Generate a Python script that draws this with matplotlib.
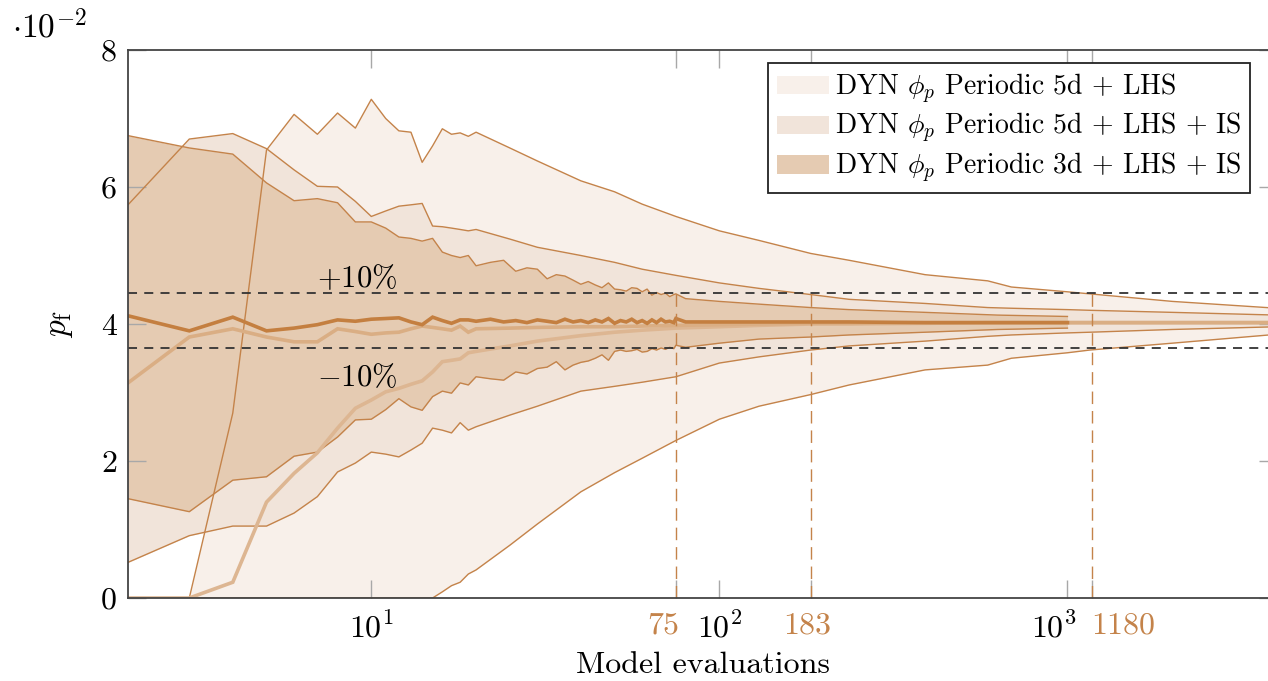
import matplotlib
matplotlib.use("Agg")
import matplotlib.pyplot as plt
import matplotlib.transforms as mtransforms
from matplotlib.ticker import NullLocator
from matplotlib.patches import Patch

plt.rcParams['font.family'] = 'serif'
plt.rcParams['font.serif'] = ['cmr10']
plt.rcParams['mathtext.fontset'] = 'cm'
plt.rcParams['axes.formatter.use_mathtext'] = True

# all p_f values below are in units of 1e-2

# DYN phi_p Periodic 5d + LHS
x_a = [2, 3, 4, 5, 6, 7, 8, 9, 10, 11, 12, 13, 14, 15, 16, 17, 18, 19, 20,
       25, 30, 40, 50, 60, 75, 100, 130, 183, 236, 390, 590, 690, 1000, 1160, 2000, 4000]
a_upper = [0, 0, 2.70, 6.54, 7.06, 6.77, 7.08, 6.86, 7.28, 7.00, 6.82, 6.80, 6.36, 6.60, 6.85, 6.77, 6.79, 6.74, 6.80,
           6.57, 6.38, 6.09, 5.93, 5.75, 5.57, 5.36, 5.22, 5.03, 4.93, 4.72, 4.63, 4.54, 4.47, 4.44, 4.33, 4.23]
a_mean = [0, 0, 0.23, 1.40, 1.82, 2.12, 2.48, 2.77, 2.89, 3.01, 3.06, 3.12, 3.17, 3.30, 3.45, 3.47, 3.49, 3.58, 3.60,
          3.68, 3.75, 3.83, 3.88, 3.91, 3.94, 3.96, 3.98, 4.00, 4.00, 4.01, 4.02, 4.02, 4.02, 4.02, 4.02, 4.02]
a_lower = [0, 0, 0, 0, 0, 0, 0, 0, 0, 0, 0, 0, 0, 0, 0.09, 0.18, 0.23, 0.35, 0.41,
           0.77, 1.08, 1.55, 1.83, 2.04, 2.30, 2.61, 2.80, 2.97, 3.11, 3.33, 3.40, 3.50, 3.58, 3.62, 3.72, 3.85]

# DYN phi_p Periodic 5d + LHS + IS
x_b = x_a
b_upper = [5.74, 6.70, 6.78, 6.56, 6.25, 6.01, 6.00, 5.79, 5.57, 5.65, 5.72, 5.74, 5.76, 5.43, 5.42, 5.40, 5.38, 5.36, 5.38,
           5.24, 5.12, 5.00, 4.90, 4.80, 4.71, 4.60, 4.52, 4.43, 4.36, 4.30, 4.24, 4.23, 4.21, 4.20, 4.17, 4.13]
b_mean = [3.14, 3.81, 3.93, 3.81, 3.74, 3.74, 3.93, 3.89, 3.85, 3.87, 3.88, 3.93, 3.97, 3.95, 3.93, 3.91, 3.97, 3.88, 3.93,
          3.94, 3.95, 3.96, 3.96, 3.97, 3.98, 3.99, 4.00, 4.01, 4.01, 4.02, 4.02, 4.02, 4.02, 4.02, 4.02, 4.02]
b_lower = [0.52, 0.91, 1.05, 1.05, 1.24, 1.48, 1.84, 1.97, 2.13, 2.10, 2.06, 2.16, 2.26, 2.48, 2.45, 2.41, 2.56, 2.45, 2.50,
           2.67, 2.80, 3.02, 3.09, 3.15, 3.23, 3.43, 3.52, 3.62, 3.68, 3.75, 3.82, 3.84, 3.87, 3.88, 3.92, 3.96]

# DYN phi_p Periodic 3d + LHS + IS
x_c = [2, 3, 4, 5, 6, 7, 8, 9, 10, 11, 12, 13, 14, 15, 16, 17, 18, 19, 20,
       22, 24, 26, 28, 30, 32, 34, 36, 38, 40, 42, 44, 46, 48, 50, 52, 54, 56, 58, 60,
       62, 64, 66, 68, 70, 72, 74, 75, 80, 100, 130, 183, 236, 390, 630, 1000]
c_upper = [6.75, 6.57, 6.48, 6.06, 5.80, 5.83, 5.77, 5.49, 5.49, 5.40, 5.27, 5.25, 5.21, 5.25, 5.05, 5.00, 4.97, 5.00, 4.85,
           4.90, 4.93, 4.77, 4.82, 4.80, 4.66, 4.72, 4.70, 4.64, 4.58, 4.62, 4.57, 4.53, 4.60, 4.51, 4.50, 4.48, 4.53, 4.52, 4.47,
           4.51, 4.42, 4.46, 4.43, 4.45, 4.40, 4.43, 4.44, 4.37, 4.33, 4.29, 4.24, 4.21, 4.17, 4.13, 4.11]
c_mean = [4.12, 3.90, 4.10, 3.90, 3.94, 3.99, 4.06, 4.04, 4.07, 4.08, 4.09, 4.03, 3.99, 4.10, 4.05, 4.01, 4.06, 4.06, 4.04,
          4.07, 4.03, 4.05, 4.02, 4.06, 4.04, 4.02, 4.07, 4.03, 4.05, 4.02, 4.06, 4.03, 4.08, 4.01, 4.05, 4.03, 4.07, 4.02, 4.05,
          4.01, 4.06, 4.02, 4.07, 4.03, 4.04, 4.02, 4.08, 4.03, 4.03, 4.03, 4.03, 4.03, 4.02, 4.02, 4.02]
c_lower = [1.45, 1.26, 1.72, 1.77, 2.07, 2.13, 2.35, 2.60, 2.61, 2.75, 2.91, 2.79, 2.74, 2.94, 3.02, 2.99, 3.14, 3.11, 3.23,
           3.20, 3.18, 3.30, 3.27, 3.35, 3.37, 3.45, 3.33, 3.40, 3.44, 3.46, 3.50, 3.55, 3.47, 3.60, 3.62, 3.60, 3.61, 3.63, 3.59,
           3.60, 3.64, 3.62, 3.65, 3.63, 3.66, 3.64, 3.69, 3.66, 3.72, 3.78, 3.81, 3.84, 3.88, 3.92, 3.94]

legend_labels = [r'DYN $\phi_p$ Periodic 5d + LHS',
                 r'DYN $\phi_p$ Periodic 5d + LHS + IS',
                 r'DYN $\phi_p$ Periodic 3d + LHS + IS']

pf_ref = 4.05
marks = [75, 183, 1180]

orange = '#C4834A'
fills = ['#F8F0EA', '#F1E4DA', '#E5CBB2']
mean_cols = ['#DDB692', '#DAAE84', '#C47F40']

fig = plt.figure(figsize=(12.68, 6.81), dpi=100)
ax = fig.add_axes([128 / 1268, 1 - 598 / 681, 1149 / 1268, 548 / 681])

series = [(x_a, a_lower, a_upper, a_mean),
          (x_b, b_lower, b_upper, b_mean),
          (x_c, c_lower, c_upper, c_mean)]

for i, (x, lo, up, mu) in enumerate(series):
    ax.fill_between(x, lo, up, color=fills[i], lw=0, zorder=1 + i * 0.1)
for i, (x, lo, up, mu) in enumerate(series):
    ax.plot(x, lo, color=orange, lw=1.0, zorder=3)
    ax.plot(x, up, color=orange, lw=1.0, zorder=3)
for i, (x, lo, up, mu) in enumerate(series):
    ax.plot(x, mu, color=mean_cols[i], lw=2.6, zorder=4, solid_joinstyle='miter')

# +-10 % band
for f in (1.1, 0.9):
    ax.axhline(pf_ref * f, color='#333333', lw=1.3, dashes=(5, 4), zorder=6)
ax.text(9.1, pf_ref * 1.1 + 0.09, r'$+10\%$', ha='center', va='baseline', fontsize=22, zorder=7)
ax.text(9.1, 3.09, r'$-10\%$', ha='center', va='baseline', fontsize=22, zorder=7)

for m in marks:
    ax.plot([m, m], [0, pf_ref * 1.1], color=orange, lw=1.0, dashes=(9, 5), zorder=5)

ax.set_xscale('log')
ax.set_xlim(2, 4000)
ax.set_ylim(0, 8)
ax.xaxis.set_minor_locator(NullLocator())
ax.set_xticks([10, 75, 100, 183, 1000, 1180],
              [r'$10^1$', '75', r'$10^2$', '183', r'$10^3$', '1180'])
ax.set_yticks([0, 2, 4, 6, 8], ['0', '2', '4', '6', '8'])
ax.tick_params(axis='both', which='both', direction='in', length=13, width=1,
               color='#a8a8a8', top=True, right=True, labelsize=23)
ax.tick_params(axis='x', pad=10)
ax.tick_params(axis='y', pad=8)

shifts = {'75': -13, '183': -4, r'$10^3$': -14, '1180': 31}
for lab in ax.get_xticklabels():
    t = lab.get_text()
    if t in ('75', '183', '1180'):
        lab.set_color(orange)
    if t in shifts:
        lab.set_transform(lab.get_transform() +
                          mtransforms.ScaledTranslation(shifts[t] / 100, 0, fig.dpi_scale_trans))

for s in ax.spines.values():
    s.set_color('#444444')
    s.set_linewidth(1.3)
    s.set_zorder(8)

ax.set_xlabel('Model evaluations', fontsize=23)
ax.xaxis.set_label_coords(0.5, -0.098)
ax.set_ylabel(r'$p_\mathrm{f}$', fontsize=24)
ax.yaxis.set_label_coords(-0.046, 0.5)
fig.text(12 / 1268, 1 - 38 / 681, r'$\cdot 10^{-2}$', fontsize=24, ha='left', va='baseline')

handles = [Patch(facecolor=c, edgecolor='none') for c in fills]
leg = ax.legend(handles, legend_labels, loc='upper right',
                bbox_to_anchor=(1250 / 1268, 1 - 63 / 681), bbox_transform=fig.transFigure,
                borderaxespad=0, fontsize=20, frameon=True, fancybox=False, framealpha=1,
                edgecolor='#222222', handlelength=1.9, handleheight=0.65, handletextpad=0.2,
                labelspacing=0.2, borderpad=0.3)
leg.get_frame().set_linewidth(1.3)
leg.set_zorder(9)

fig.savefig('out.png', dpi=100)
